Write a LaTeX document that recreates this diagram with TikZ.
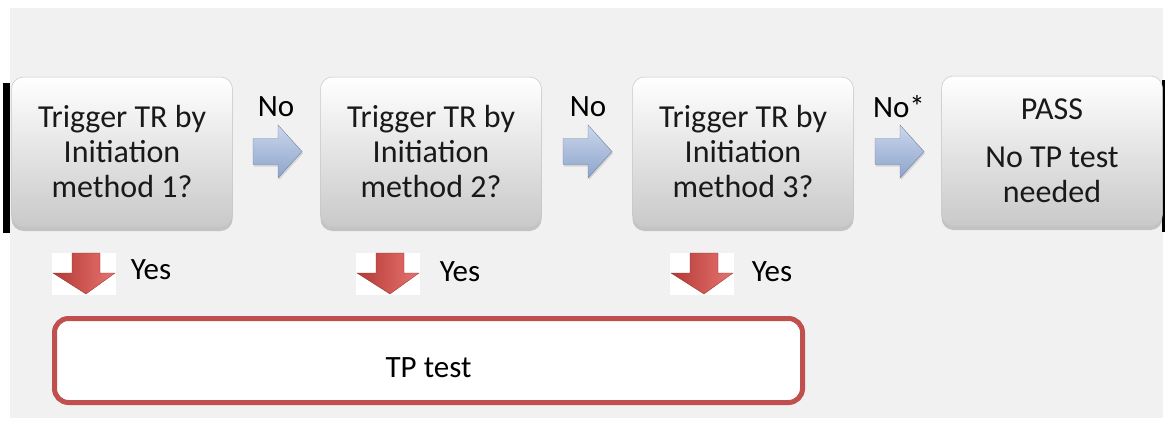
\documentclass[tikz,border=0pt]{standalone}
\usepackage{fontspec}
\setmainfont{Carlito}
\usetikzlibrary{shadows}
\definecolor{bg}{HTML}{F1F1F1}
\definecolor{tpred}{HTML}{C0504D}
\definecolor{boxbot}{HTML}{C9C9C9}
\definecolor{blueA}{HTML}{CBD7EC}
\definecolor{blueB}{HTML}{8CA3CB}
\definecolor{redA}{HTML}{B33A36}
\definecolor{redB}{HTML}{E87370}
\newcommand\bluearr[2]{%
  \path[top color=blueA,bottom color=blueB,draw=blueB!80!black,line width=0.4pt,
        drop shadow={shadow xshift=1pt,shadow yshift=-2pt,opacity=0.25}]
    (#1,#2-13) -- (#1+25,#2-13) -- (#1+25,#2-26.5) -- (#1+49,#2) --
    (#1+25,#2+26.5) -- (#1+25,#2+13) -- (#1,#2+13) -- cycle;}
\newcommand\redarr[2]{%
  \fill[white] (#1,#2) rectangle (#1+64,#2+42);
  \path[left color=redA,right color=redB,draw=redA!80!black,line width=0.3pt]
    (#1+20,#2) -- (#1+48,#2) -- (#1+48,#2+20) -- (#1+63,#2+20) --
    (#1+34,#2+41) -- (#1+1,#2+20) -- (#1+20,#2+20) -- cycle;}
\begin{document}
\begin{tikzpicture}[x=1pt,y=-1pt,
  qbox/.style={rounded corners=12pt,minimum width=221pt,minimum height=150pt,
    top color=white,middle color=white!92!boxbot,bottom color=boxbot,draw=gray!45,line width=0.5pt,
    drop shadow={shadow xshift=0pt,shadow yshift=-4pt,opacity=0.4},
    align=center,inner sep=0pt,font=\fontsize{32}{35}\selectfont,text=black!90},
  lbl/.style={font=\fontsize{31}{34}\selectfont,text=black,inner sep=0pt},
  tpbox/.style={draw=tpred,line width=5pt,rounded corners=14pt,fill=white,
    minimum width=748pt,minimum height=84pt,inner sep=0pt}]
\useasboundingbox (0,0) rectangle (1165,421);
\fill[white] (0,0) rectangle (1165,421);
\fill[bg] (10,8) rectangle (1163,418);
\fill[black] (3,83) rectangle (10,233);
\fill[black] (1162,80) rectangle (1165,232);

\node[qbox] (q1) at (122,152) {Trigger TR by\\Initiation\\method 1?};
\node[qbox] (q2) at (431,152) {Trigger TR by\\Initiation\\method 2?};
\node[qbox] (q3) at (743,152) {Trigger TR by\\Initiation\\method 3?};
\node[qbox] (q4) at (1052,151) {PASS\\[13pt]No TP test\\needed};

\bluearr{253}{151.5}
\bluearr{563}{151.5}
\bluearr{875}{151.5}
\node[lbl] (n1) at (276,107) {No};
\node[lbl] (n2) at (588,107) {No};
\node[lbl] (n3) at (899,107) {No*};

\redarr{52}{253}
\redarr{356}{253}
\redarr{670}{253}
\node[lbl] (y1) at (151,270) {Yes};
\node[lbl] (y2) at (460,272) {Yes};
\node[lbl] (y3) at (772,272) {Yes};

\node[tpbox] (tp) at (428.5,360.5) {};
\node[lbl] (tpt) at ([yshift=-7pt]tp.center) {TP test};
\end{tikzpicture}
\end{document}
